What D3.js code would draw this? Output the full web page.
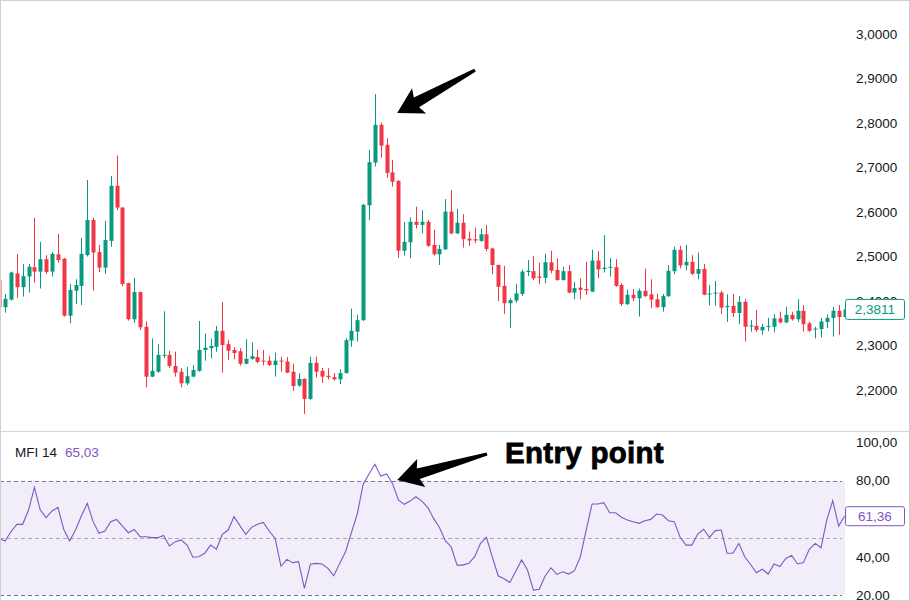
<!DOCTYPE html>
<html><head><meta charset="utf-8">
<script src="https://cdn.jsdelivr.net/npm/d3@7"></script>
<style>html,body{margin:0;padding:0;background:#fff;}svg{display:block;}</style>
</head><body>
<script>
// ---- data ----
const opens = [2.447,2.386,2.403,2.462,2.431,2.455,2.476,2.466,2.494,2.466,2.505,2.495,2.367,2.423,2.434,2.503,2.582,2.510,2.475,2.535,
2.659,2.610,2.440,2.359,2.420,2.342,2.230,2.241,2.277,2.279,2.254,2.241,2.215,2.230,2.243,2.290,2.294,2.297,2.333,2.303,
2.290,2.287,2.259,2.270,2.274,2.266,2.266,2.256,2.266,2.264,2.241,2.210,2.225,2.180,2.261,2.243,2.232,2.229,2.224,2.238,
2.311,2.331,2.357,2.615,2.711,2.796,2.751,2.689,2.670,2.513,2.532,2.578,2.571,2.578,2.526,2.505,2.516,2.601,2.552,2.576,
2.540,2.539,2.535,2.550,2.518,2.481,2.434,2.395,2.401,2.416,2.465,2.467,2.455,2.452,2.487,2.470,2.447,2.467,2.419,2.430,
2.427,2.421,2.491,2.472,2.475,2.476,2.436,2.393,2.414,2.406,2.423,2.415,2.404,2.386,2.411,2.467,2.515,2.480,2.488,2.461,
2.472,2.415,2.417,2.419,2.386,2.389,2.373,2.398,2.343,2.344,2.334,2.342,2.342,2.361,2.352,2.369,2.359,2.378,2.350,2.336,
2.337,2.353,2.362,2.378,2.364];
const highs = [2.450,2.416,2.466,2.506,2.483,2.483,2.587,2.533,2.503,2.510,2.551,2.497,2.438,2.449,2.542,2.672,2.587,2.526,2.580,2.681,
2.727,2.611,2.441,2.452,2.421,2.354,2.316,2.303,2.377,2.288,2.286,2.249,2.252,2.256,2.355,2.327,2.315,2.344,2.398,2.312,
2.296,2.294,2.314,2.307,2.290,2.290,2.277,2.284,2.275,2.274,2.259,2.238,2.226,2.275,2.275,2.250,2.249,2.238,2.247,2.316,
2.383,2.369,2.618,2.739,2.865,2.801,2.766,2.717,2.671,2.578,2.588,2.612,2.604,2.582,2.560,2.526,2.629,2.649,2.607,2.595,
2.556,2.565,2.563,2.571,2.520,2.482,2.479,2.406,2.438,2.470,2.492,2.501,2.486,2.506,2.513,2.496,2.477,2.481,2.443,2.451,
2.488,2.515,2.512,2.548,2.496,2.494,2.440,2.426,2.427,2.428,2.473,2.449,2.416,2.416,2.481,2.522,2.524,2.526,2.503,2.509,
2.483,2.436,2.445,2.423,2.415,2.416,2.411,2.404,2.357,2.380,2.348,2.362,2.371,2.376,2.387,2.376,2.404,2.391,2.353,2.342,
2.362,2.370,2.387,2.391,2.399];
const lows = [2.384,2.374,2.401,2.407,2.410,2.419,2.441,2.428,2.461,2.455,2.486,2.365,2.350,2.393,2.391,2.500,2.423,2.465,2.461,2.522,
2.604,2.434,2.356,2.351,2.335,2.206,2.229,2.239,2.271,2.249,2.230,2.206,2.211,2.229,2.241,2.266,2.271,2.286,2.239,2.267,
2.269,2.255,2.258,2.268,2.260,2.255,2.254,2.230,2.241,2.238,2.198,2.207,2.146,2.177,2.228,2.216,2.224,2.221,2.213,2.237,
2.297,2.309,2.355,2.582,2.702,2.722,2.677,2.657,2.497,2.502,2.496,2.563,2.552,2.522,2.502,2.481,2.515,2.550,2.550,2.520,
2.524,2.530,2.533,2.512,2.460,2.400,2.371,2.339,2.396,2.411,2.456,2.447,2.438,2.440,2.462,2.446,2.446,2.417,2.404,2.404,
2.414,2.420,2.451,2.464,2.455,2.432,2.389,2.391,2.400,2.365,2.409,2.384,2.385,2.376,2.409,2.460,2.473,2.469,2.458,2.449,
2.413,2.390,2.389,2.371,2.353,2.364,2.348,2.309,2.331,2.331,2.324,2.332,2.330,2.350,2.350,2.356,2.353,2.331,2.330,2.316,
2.318,2.339,2.320,2.324,2.335];
const closes = [2.386,2.405,2.464,2.431,2.456,2.477,2.466,2.494,2.465,2.506,2.492,2.367,2.425,2.436,2.506,2.582,2.509,2.475,2.537,2.659,
2.610,2.438,2.359,2.420,2.341,2.230,2.243,2.279,2.279,2.254,2.239,2.215,2.231,2.245,2.290,2.295,2.299,2.333,2.301,2.288,
2.283,2.259,2.270,2.276,2.263,2.264,2.256,2.266,2.264,2.239,2.209,2.225,2.180,2.261,2.241,2.230,2.229,2.224,2.238,2.312,
2.333,2.357,2.616,2.712,2.796,2.749,2.688,2.668,2.513,2.533,2.578,2.571,2.578,2.524,2.505,2.517,2.601,2.552,2.576,2.539,
2.536,2.536,2.550,2.517,2.481,2.432,2.395,2.402,2.417,2.466,2.468,2.451,2.452,2.487,2.468,2.447,2.467,2.419,2.429,2.425,
2.424,2.491,2.471,2.475,2.477,2.434,2.393,2.414,2.406,2.423,2.411,2.403,2.386,2.411,2.468,2.515,2.480,2.488,2.461,2.472,
2.414,2.417,2.419,2.385,2.389,2.373,2.398,2.342,2.345,2.335,2.342,2.344,2.361,2.352,2.369,2.359,2.378,2.348,2.333,2.338,
2.354,2.362,2.378,2.364,2.3811];
const mfiValues = [49.7,48.3,53.2,57.1,57.1,64.6,76.5,64.6,60.6,64.1,66.0,54.4,48.3,54.1,61.5,68.1,58.5,52.4,53.6,58.5,
59.7,56.2,52.7,54.4,50.6,50.6,50.1,50.1,51.3,45.7,48.0,48.9,46.2,39.8,40.1,41.9,46.2,44.1,51.8,54.1,
61.1,56.4,51.8,55.5,57.1,58.1,53.6,49.7,35.2,38.7,37.0,37.5,23.5,36.1,36.6,36.3,34.0,30.1,36.6,42.7,
52.7,62.5,78.2,83.5,88.6,82.4,83.5,78.6,69.9,67.6,69.3,71.6,69.3,66.0,60.2,55.4,48.5,45.2,35.7,35.7,
36.6,40.1,47.1,50.3,40.0,30.1,28.5,26.6,32.5,38.4,33.1,22.6,23.0,30.0,34.3,30.8,32.2,31.0,32.8,40.1,
54.1,67.8,67.8,68.5,63.2,63.2,60.8,59.4,58.5,57.6,59.0,59.7,62.5,62.0,59.0,58.5,50.3,46.2,46.2,52.0,
54.5,50.3,53.8,54.1,41.9,41.9,47.1,40.1,36.0,31.7,33.5,31.0,36.3,34.9,39.2,40.8,36.3,37.0,44.0,47.1,
44.8,59.7,69.5,56.2,61.36];
const priceTicks = [2.2,2.3,2.4,2.5,2.6,2.7,2.8,2.9,3.0];
const mfiTicks = [20,40,60,80,100];
const mfiBands = [20,50,80];
const lastPrice = 2.3811;
const lastMfi = 61.36;
const mfiTitle = "MFI 14";
const mfiHeaderValue = "65,03";
const annotationText = "Entry point";
// arrows in data coordinates (bar index, value)
const priceArrow = {tail:[81.05, 2.919], tip:[67.8, 2.8225]};
const mfiArrow = {tail:[83.1, 94.0], tip:[67.8, 80.4]};

// ---- layout ----
const W = 910, H = 601;
const plotRight = 845, sepY = 431;
const green = "#089981", red = "#f23645", purple = "#7e57c2", textCol = "#131722";
const fmt = (v, d) => d3.format("." + d + "f")(v).replace(".", ",");

const svg = d3.select("body").append("svg").attr("width", W).attr("height", H)
  .style("font-family", "'Liberation Sans', Arial, sans-serif");

const n = closes.length;
const x = d3.scaleLinear().domain([0, n - 1]).range([-0.8, 844.5]);
const yP = d3.scaleLinear().domain([2.2, 3.0]).range([390, 34]);
const yM = d3.scaleLinear().domain([20, 80]).range([595, 480.7]);

const defs = svg.append("defs");
defs.append("clipPath").attr("id", "clipP").append("rect").attr("x", 0).attr("y", 0).attr("width", plotRight).attr("height", sepY);
defs.append("clipPath").attr("id", "clipM").append("rect").attr("x", 0).attr("y", sepY).attr("width", plotRight).attr("height", H - sepY);

svg.append("rect").attr("width", W).attr("height", H).attr("fill", "#fff");

// ---- candles ----
const bars = d3.range(n).map(i => ({i, o: opens[i], h: highs[i], l: lows[i], c: closes[i]}));
const gP = svg.append("g").attr("clip-path", "url(#clipP)");
const cg = gP.selectAll("g.c").data(bars).join("g")
  .attr("fill", d => d.c >= d.o ? green : red).attr("stroke", d => d.c >= d.o ? green : red);
cg.append("line")
  .attr("x1", d => Math.round(x(d.i)) + 0.5).attr("x2", d => Math.round(x(d.i)) + 0.5)
  .attr("y1", d => yP(d.h)).attr("y2", d => yP(d.l)).attr("stroke-width", 1);
cg.append("rect")
  .attr("x", d => Math.round(x(d.i)) - 1.5).attr("width", 4)
  .attr("y", d => yP(Math.max(d.o, d.c)))
  .attr("height", d => Math.max(1, Math.abs(yP(d.o) - yP(d.c))))
  .attr("stroke", "none");

// ---- arrows ----
function arrowPath(tailPt, tipPt) {
  const [tx, ty] = tipPt, [sx, sy] = tailPt;
  const dx = sx - tx, dy = sy - ty, len = Math.hypot(dx, dy);
  const ux = dx / len, uy = dy / len, nx = -uy, ny = ux;
  const headLen = 25, headHalf = 14.5, shaftHalf = 5.5, tailHalf = 1.6, notch = 3;
  const bx = tx + ux * headLen, by = ty + uy * headLen;
  const jx = tx + ux * (headLen - notch), jy = ty + uy * (headLen - notch);
  const pts = [
    [tx, ty],
    [bx + nx * headHalf, by + ny * headHalf],
    [jx + nx * shaftHalf, jy + ny * shaftHalf],
    [sx + nx * tailHalf, sy + ny * tailHalf],
    [sx - nx * tailHalf, sy - ny * tailHalf],
    [jx - nx * shaftHalf, jy - ny * shaftHalf],
    [bx - nx * headHalf, by - ny * headHalf]
  ];
  return "M" + pts.map(p => p.join(",")).join("L") + "Z";
}
svg.append("path").attr("d", arrowPath([x(priceArrow.tail[0]), yP(priceArrow.tail[1])], [x(priceArrow.tip[0]), yP(priceArrow.tip[1])]))
  .attr("fill", "#000");

// ---- price axis labels ----
svg.append("g").selectAll("text").data(priceTicks).join("text")
  .attr("x", 856).attr("y", d => yP(d)).attr("dy", "0.35em")
  .attr("font-size", 13.5).attr("fill", textCol).text(d => fmt(d, 4));

// last price label
svg.append("rect").attr("x", 845.5).attr("y", yP(lastPrice) - 10).attr("width", 59).attr("height", 20)
  .attr("rx", 2).attr("fill", "#fff").attr("stroke", green);
svg.append("text").attr("x", 875).attr("y", yP(lastPrice)).attr("dy", "0.35em").attr("text-anchor", "middle")
  .attr("font-size", 13.5).attr("fill", green).text(fmt(lastPrice, 4));

// ---- separator ----
svg.append("line").attr("x1", 0).attr("x2", W).attr("y1", sepY + 0.5).attr("y2", sepY + 0.5).attr("stroke", "#d6d6d6");

// ---- MFI pane ----
const gM = svg.append("g").attr("clip-path", "url(#clipM)");
gM.append("rect").attr("x", 0).attr("width", plotRight).attr("y", yM(80)).attr("height", yM(20) - yM(80))
  .attr("fill", "rgba(126,87,194,0.1)");
gM.selectAll("line.band").data(mfiBands).join("line")
  .attr("x1", 0).attr("x2", 842).attr("y1", d => Math.round(yM(d)) + 0.5).attr("y2", d => Math.round(yM(d)) + 0.5)
  .attr("stroke", "#787b86").attr("stroke-opacity", d => d === 50 ? 0.6 : 1)
  .attr("stroke-dasharray", "4,3");
gM.append("path").datum(mfiValues)
  .attr("d", d3.line().x((d, i) => x(i)).y(d => yM(d)))
  .attr("fill", "none").attr("stroke", purple).attr("stroke-width", 1.1);

svg.append("path").attr("d", arrowPath([x(mfiArrow.tail[0]), yM(mfiArrow.tail[1])], [x(mfiArrow.tip[0]), yM(mfiArrow.tip[1])]))
  .attr("fill", "#000");

svg.append("text").attr("x", 505).attr("y", 463).attr("font-size", 29.5).attr("font-weight", "bold")
  .attr("fill", "#000").attr("stroke", "#000").attr("stroke-width", 0.8).attr("letter-spacing", 0.3)
  .text(annotationText);

const hdr = svg.append("text").attr("x", 15).attr("y", 452).attr("dy", "0.35em").attr("font-size", 13.5);
hdr.append("tspan").attr("fill", textCol).text(mfiTitle);
hdr.append("tspan").attr("fill", purple).attr("dx", 8).text(mfiHeaderValue);

svg.append("g").selectAll("text").data(mfiTicks).join("text")
  .attr("x", 856).attr("y", d => yM(d)).attr("dy", "0.35em")
  .attr("font-size", 13.5).attr("fill", textCol).text(d => fmt(d, 2));

svg.append("rect").attr("x", 845.5).attr("y", yM(lastMfi) - 9.5).attr("width", 59).attr("height", 19)
  .attr("rx", 2).attr("fill", "#fff").attr("stroke", purple);
svg.append("text").attr("x", 875).attr("y", yM(lastMfi)).attr("dy", "0.35em").attr("text-anchor", "middle")
  .attr("font-size", 13.5).attr("fill", purple).text(fmt(lastMfi, 2));

// ---- outer border ----
svg.append("rect").attr("x", 0.5).attr("y", 0.5).attr("width", W - 1).attr("height", H - 1)
  .attr("fill", "none").attr("stroke", "#d0d0d0");
</script>
</body></html>
